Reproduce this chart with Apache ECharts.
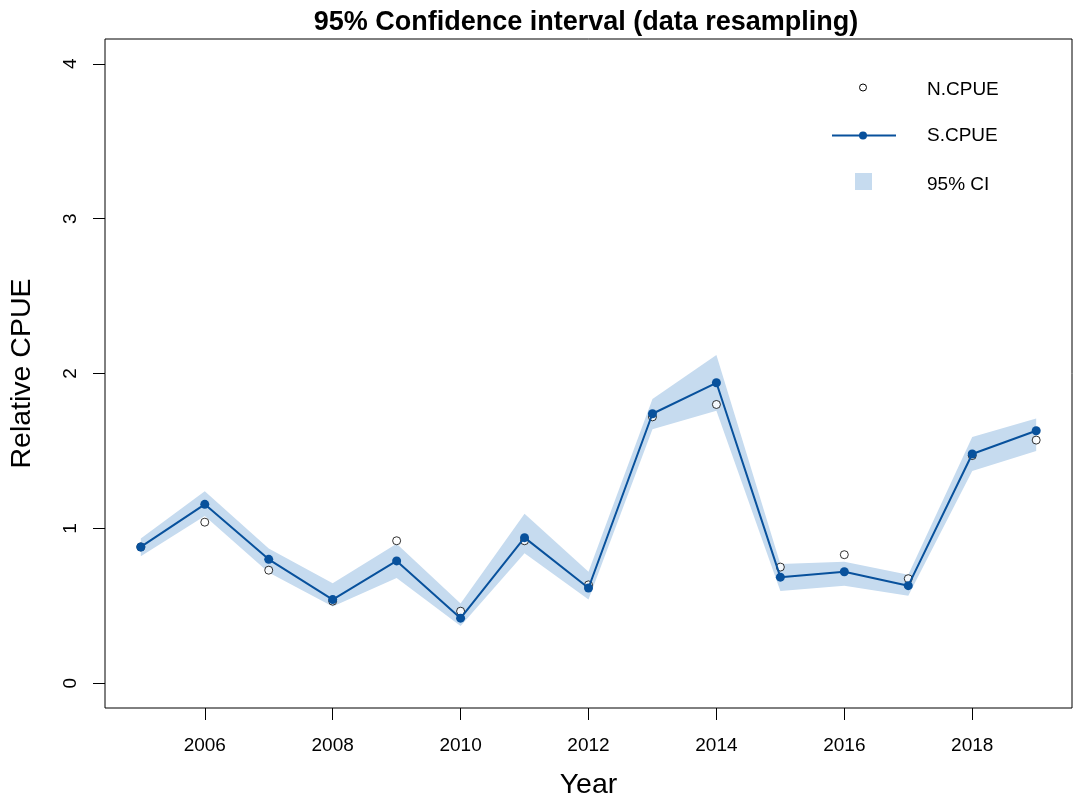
<!DOCTYPE html>
<html>
<head>
<meta charset="utf-8">
<script src="https://cdn.jsdelivr.net/npm/echarts@6/dist/echarts.min.js"></script>
<style>
html,body{margin:0;padding:0;background:#fff;}
#chart{width:1077px;height:805px;}
</style>
</head>
<body>
<div id="chart"></div>
<script>
// ---- data ----
const years = [2005, 2006, 2007, 2008, 2009, 2010, 2011, 2012, 2013, 2014, 2015, 2016, 2017, 2018, 2019];
const nCPUE = [0.88, 1.04, 0.73, 0.53, 0.92, 0.465, 0.92, 0.635, 1.72, 1.80, 0.75, 0.83, 0.675, 1.47, 1.57];
const sCPUE = [0.88, 1.155, 0.80, 0.54, 0.79, 0.42, 0.94, 0.615, 1.74, 1.94, 0.685, 0.72, 0.63, 1.48, 1.63];
const ciLower = [0.82, 1.08, 0.715, 0.495, 0.68, 0.37, 0.84, 0.54, 1.64, 1.76, 0.595, 0.63, 0.565, 1.37, 1.50];
const ciUpper = [0.935, 1.24, 0.87, 0.645, 0.90, 0.515, 1.095, 0.72, 1.835, 2.12, 0.77, 0.785, 0.70, 1.59, 1.71];
const xTicks = [2006, 2008, 2010, 2012, 2014, 2016, 2018];
const yTicks = [0, 1, 2, 3, 4];
const legendNames = ['N.CPUE', 'S.CPUE', '95% CI'];

const FONT = '"Liberation Sans", Arial, sans-serif';
const lineBlue = '#08519c';
const bandBlue = '#c6dbef';

const pairs = arr => years.map((y, i) => [y, arr[i]]);
const bandData = years.map((y, i) => [y, ciLower[i], ciUpper[i]]);

function renderBand(params, api) {
  if (params.dataIndexInside !== 0) return null;
  const n = params.dataInsideLength;
  const pts = [];
  for (let i = 0; i < n; i++) pts.push(api.coord([api.value(0, i), api.value(2, i)]));
  for (let i = n - 1; i >= 0; i--) pts.push(api.coord([api.value(0, i), api.value(1, i)]));
  return {type: 'polygon', shape: {points: pts}, style: {fill: bandBlue}, silent: true};
}

const legendText = (name, y) => ({
  type: 'text', left: 927, top: y - 10,
  style: {text: name, fontFamily: FONT, fontSize: 19, fill: '#000'}
});

const chart = echarts.init(document.getElementById('chart'), null, {renderer: 'canvas'});
chart.setOption({
  animation: false,
  backgroundColor: '#fff',
  title: {
    text: '95% Confidence interval (data resampling)',
    left: 581,
    textAlign: 'center',
    top: 4,
    textStyle: {fontFamily: FONT, fontWeight: 'bold', fontSize: 27, color: '#000'}
  },
  grid: {
    left: 103, right: 5, top: 39, bottom: 95,
    show: true, borderColor: '#000', borderWidth: 1, backgroundColor: 'transparent'
  },
  xAxis: {
    type: 'value', min: 2004.44, max: 2019.56,
    name: 'Year', nameLocation: 'middle', nameGap: 63,
    nameTextStyle: {fontFamily: FONT, fontSize: 28.5, color: '#000'},
    axisLine: {show: false, onZero: false},
    axisTick: {show: true, length: 12, customValues: xTicks, lineStyle: {color: '#000'}},
    axisLabel: {customValues: xTicks, margin: 28, fontFamily: FONT, fontSize: 19, color: '#000', formatter: v => String(v)},
    splitLine: {show: false}
  },
  yAxis: {
    type: 'value', min: -0.16, max: 4.16,
    name: 'Relative CPUE', nameLocation: 'middle', nameGap: 68, nameRotate: 90,
    nameTextStyle: {fontFamily: FONT, fontSize: 28.5, color: '#000'},
    axisLine: {show: false, onZero: false},
    axisTick: {show: true, length: 12, customValues: yTicks, lineStyle: {color: '#000'}},
    axisLabel: {customValues: yTicks, margin: 25, rotate: 90, fontFamily: FONT, fontSize: 19, color: '#000', formatter: v => String(v)},
    splitLine: {show: false}
  },
  graphic: [
    {type: 'circle', shape: {cx: 863, cy: 87.5, r: 3.5}, style: {fill: '#fff', stroke: '#000', lineWidth: 1}},
    {type: 'line', shape: {x1: 832, y1: 135.5, x2: 896, y2: 135.5}, style: {stroke: lineBlue, lineWidth: 2}},
    {type: 'circle', shape: {cx: 863, cy: 135.5, r: 4}, style: {fill: lineBlue}},
    {type: 'rect', shape: {x: 855, y: 173, width: 17, height: 17}, style: {fill: bandBlue}},
    legendText(legendNames[0], 90.5),
    legendText(legendNames[1], 136.5),
    legendText(legendNames[2], 185.5)
  ],
  series: [
    {
      name: '95% CI', type: 'custom', data: bandData,
      encode: {x: 0, y: [1, 2]}, renderItem: renderBand, silent: true, z: 1
    },
    {
      name: 'N.CPUE', type: 'scatter', data: pairs(nCPUE),
      symbol: 'circle', symbolSize: 8, z: 2,
      itemStyle: {color: '#fff', borderColor: '#000', borderWidth: 1}
    },
    {
      name: 'S.CPUE', type: 'line', data: pairs(sCPUE), z: 3,
      symbol: 'circle', symbolSize: 9, showAllSymbol: true,
      lineStyle: {color: lineBlue, width: 2},
      itemStyle: {color: lineBlue}
    }
  ]
});
</script>
</body>
</html>
